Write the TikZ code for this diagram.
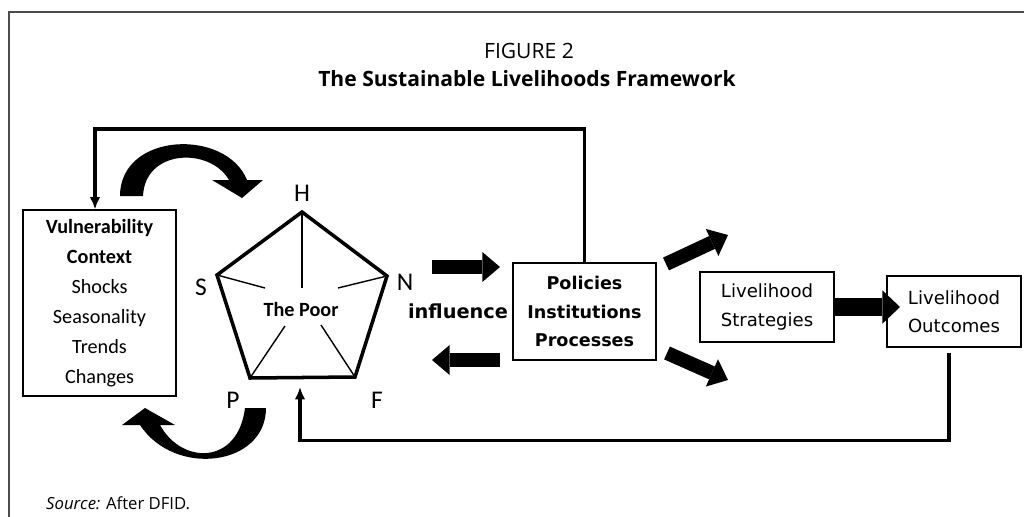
\documentclass[tikz,border=0pt]{standalone}
\usepackage{fontspec}
\setmainfont{Open Sans}
\newfontfamily\calibrifont{Carlito}
\newfontfamily\comicfont{DejaVu Sans}
\usetikzlibrary{arrows.meta,positioning,calc}
\tikzset{
    frame rule/.style = {
        draw = black!70,
        line width = 0.9pt,
        },
    feedback/.style = {
        line width = 2pt,
        -{Latex[length=7pt,width=6pt]},
        },
    plain box/.style = {
        draw,
        line width = 0.7pt,
        align = center,
        inner sep = 0pt,
        },
    calibri box/.style = {
        plain box,
        font = \calibrifont\fontsize{11.5}{17}\selectfont,
        },
    comic box/.style = {
        plain box,
        font = \comicfont\fontsize{10.3}{16}\selectfont,
        },
    comic bold box/.style = {
        plain box,
        font = \comicfont\bfseries\fontsize{10}{16.4}\selectfont,
        },
    vertex label/.style = {
        font = \calibrifont\fontsize{14.5}{14}\selectfont,
        inner sep = 0pt,
        },
    block arrow/.style = {
        line width = 8pt,
        -{Triangle[length=10pt,width=17pt,line width=0pt]},
        },
    big block arrow/.style = {
        line width = 10.8pt,
        -{Triangle[length=10pt,width=19pt,line width=0pt]},
        },
    spoke/.style = {
        line width = 0.8pt,
        },
}

\begin{document}
\begin{tikzpicture}[x=0.02cm, y=-0.02cm]
    \useasboundingbox (0,0) rectangle (1024,517);
    \draw[frame rule] (1024,12) -- (9,12) -- (9,517);

    \node[font=\fontsize{12}{13}\selectfont] (fig) at (529,51) {FIGURE 2};
    \node[font=\bfseries\fontsize{12}{13}\selectfont] (title) at (527,79) {The Sustainable Livelihoods Framework};

    % boxes
    \node[calibri box, minimum width=3.06cm, minimum height=3.72cm] (vul) at (99.5,303)
        {\textbf{Vulnerability}\\ \textbf{Context}\\ Shocks\\ Seasonality\\ Trends\\ Changes};
    \node[comic bold box, minimum width=2.86cm, minimum height=1.94cm] (pol) at (584.5,311.5)
        {Policies\\ Institutions\\ Processes};
    \node[comic box, minimum width=2.68cm, minimum height=1.4cm] (strat) at (767,307)
        {Livelihood\\ Strategies};
    \node[comic box, minimum width=2.68cm, minimum height=1.42cm] (outc) at (954,311.5)
        {Livelihood\\ Outcomes};

    % asset pentagon
    \coordinate (H) at (302,212);
    \coordinate (N) at (387,276);
    \coordinate (F) at (355,377);
    \coordinate (P) at (250,378);
    \coordinate (S) at (217,275);
    \draw[line width=2pt] (H) -- (N) -- (F) -- (P) -- (S) -- cycle;
    \draw[spoke] (H) -- (302,288);
    \draw[spoke] (S) -- (265,288);
    \draw[spoke] (N) -- (338,288);
    \draw[spoke] (P) -- (285,326);
    \draw[spoke] (F) -- (321,325);
    \node[font=\calibrifont\bfseries\fontsize{11.5}{12}\selectfont] (poor) at (301,309) {The Poor};
    \node[vertex label] (lH) at (302,193) {H};
    \node[vertex label] (lS) at (201,287) {S};
    \node[vertex label] (lN) at (405,282) {N};
    \node[vertex label] (lP) at (233,400) {P};
    \node[vertex label] (lF) at (377,400) {F};

    \node[font=\comicfont\bfseries\fontsize{11}{12}\selectfont] (infl) at (458,311) {influence};

    % feedback loops
    \coordinate (topbend) at (95,129);
    \draw[feedback] (pol.north) |- (topbend) -- (topbend |- vul.north);
    \coordinate (poorin) at (300,387);
    \draw[feedback] ([xshift=-0.1cm,yshift=-0.1cm]outc.south) -- ++(0,88) -| (poorin);

    % block arrows
    \coordinate (inA) at (432,267);
    \coordinate (inB) at (500,267);
    \coordinate (backA) at (500,360);
    \coordinate (backB) at (432,360);
    \coordinate (upTip) at (728,235);
    \coordinate (downTip) at (728,380);
    \coordinate (outTip) at (900,305);
    \draw[block arrow] (inA) -- (inB);
    \draw[block arrow] (backA) -- (backB);
    \draw[block arrow] (666,264) -- (upTip);
    \draw[block arrow] (667,353) -- (downTip);
    \draw[big block arrow] (strat.east) -- (strat.east -| outTip);

    % curved arrows
    \fill (120,196) .. controls (120,132) and (226,128) .. (247,180) -- (263,180) -- (242,198)
        -- (212,180) -- (229,180) .. controls (210,147) and (145,149) .. (143,196) -- cycle;
    \fill (266,408) .. controls (266,466) and (175,478) .. (140,425) -- (122,425) -- (145,408)
        -- (175,425) -- (160,425) .. controls (182,465) and (238,465) .. (245,408) -- cycle;

    \node[anchor=west, font=\fontsize{9.5}{10}\selectfont] (src) at (40,503) {\textit{Source:} After DFID.};
\end{tikzpicture}
\end{document}
